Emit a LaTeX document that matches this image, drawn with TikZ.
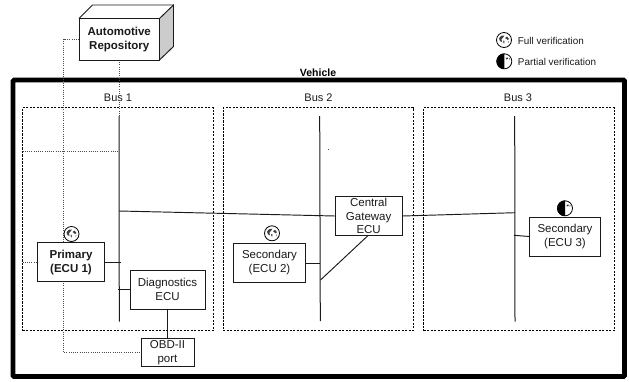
\documentclass[tikz,border=0pt]{standalone}
\usepackage{fontspec}
\setmainfont{Liberation Sans}
\definecolor{inkc}{HTML}{1A1A1A}
\tikzset{
  boxn/.style={draw=inkc,line width=0.95pt,fill=white,inner sep=0pt,align=center,text=inkc,
    font=\fontsize{11.5}{14.2}\selectfont},
  boldn/.style={boxn,font=\fontsize{11.5}{14.2}\selectfont\bfseries},
  busarea/.style={draw=black,line width=0.8pt,dash pattern=on 2.2pt off 1.3pt},
  busline/.style={draw=inkc,line width=1pt},
  conn/.style={draw=inkc,line width=0.95pt},
  dots/.style={draw=black!70,line width=0.6pt,dash pattern=on 0.9pt off 1.3pt},
  lbl/.style={inner sep=0pt,text=inkc,font=\fontsize{11}{13}\selectfont},
  legend/.style={inner sep=0pt,anchor=west,text=inkc,font=\fontsize{9.9}{12}\selectfont},
  globe/.pic={
    \draw[line width=0.8pt,fill=white] (0,0) circle (7.5);
    \fill[black!75] (-5,-1.5) .. controls (-3,-5) and (-1,-5) .. (0.5,-4.5) -- (-1,-2.5) -- (-2.5,-1) -- (-2,2) -- (-4,1) -- cycle;
    \fill[black!75] (1,-2) -- (3,-3.5) -- (5,-1) -- (3.5,0) -- (2.5,-1) -- cycle;
    \fill[black!60] (-0.8,0.5) -- (0.6,1) -- (0.2,3.6) -- (-0.8,2.6) -- cycle;
    \fill[black!60] (4,1.2) -- (5,1.5) -- (4,3.2) -- cycle;
  },
  halfglobe/.pic={
    \draw[line width=0.8pt,fill=white] (0,0) circle (7.5);
    \fill[black] (0,-7.9) arc[start angle=270,end angle=90,radius=7.9] -- cycle;
    \fill[black!80] (1.5,-3.4) -- (3.4,-3.9) -- (3.6,-2.2) -- (1.8,-2) -- cycle;
    \fill[black!80] (4.6,-3.2) -- (5.6,-2.6) -- (4.8,-1.4) -- cycle;
  }
}
\begin{document}
\begin{tikzpicture}[x=1pt,y=-1pt]
\useasboundingbox (0,0) rectangle (629,381);
% vehicle frame
\draw[line width=4.6pt,rounded corners=1pt] (13,80) rectangle (624.5,376.5);
\node[inner sep=0pt,font=\fontsize{10.5}{13}\selectfont\bfseries] (vehicle) at (318,73) {Vehicle};
% bus areas
\node[busarea,minimum width=190.5pt,minimum height=223.2pt,inner sep=0pt] (area1) at (117.75,219.1) {};
\node[busarea,minimum width=190pt,minimum height=223.2pt,inner sep=0pt] (area2) at (318,219.1) {};
\node[busarea,minimum width=190.5pt,minimum height=223.2pt,inner sep=0pt] (area3) at (518.75,219.1) {};
\node[lbl] (bus1) at (118,98) {Bus 1};
\node[lbl] (bus2) at (318.5,98) {Bus 2};
\node[lbl] (bus3) at (518,98) {Bus 3};
% named points on the bus lines
\coordinate (b1t) at (119,116);
\coordinate (b1b) at (119.3,321.7);
\coordinate (b2t) at (319.7,116);
\coordinate (b2b) at (320.3,321);
\coordinate (b3t) at (514.7,116);
\coordinate (b3b) at (515,321.7);
\coordinate (b1gw) at (119,211);
\coordinate (b1p) at (120.7,262);
\coordinate (b1d) at (118,289);
\coordinate (b1dot) at (119,151.5);
\coordinate (a1dot) at (22.5,151.5);
\coordinate (a1pr) at (22.5,262.3);
\coordinate (b2s) at (320.2,263);
\coordinate (b2g) at (320.5,280);
\coordinate (b3g) at (515,212.7);
\coordinate (b3s) at (514,235.3);
\coordinate (s3in) at (529.3,236.5);
\coordinate (gwl) at (335,216);
\coordinate (gwr) at (402.3,216);
\coordinate (gwb) at (368.3,235.3);
\coordinate (repl) at (79,39);
\coordinate (repb) at (119,60);
\coordinate (c1) at (63.5,39);
\coordinate (c2) at (63.5,352.7);
\coordinate (obdl) at (141,352.7);
% dotted links
\draw[dots] (repl) -- (c1) -- (c2) -- (obdl);
\draw[dots] (repb) -- (b1t);
\draw[dots] (a1dot) -- (b1dot);
\draw[dots] (a1pr) -- (37.5,262.3);
% buses
\draw[busline] (b1t) -- (b1b);
\draw[busline] (b2t) -- (b2b);
\draw[busline] (b3t) -- (b3b);
% links
\draw[conn] (b1gw) -- (gwl);
\draw[conn] (gwr) -- (b3g);
\draw[conn] (gwb) -- (b2g);
\draw[conn] (b1p) -- (104.5,262);
\draw[conn] (b1d) -- (130,289);
\draw[conn] (b2s) -- (305.3,263);
\draw[conn] (b3s) -- (s3in);
\draw[conn] (167.5,309) -- (167.5,338.7);
% repository cube
\fill[white] (79,18.5) -- (92.5,5) -- (173.5,5) -- (173.5,46.5) -- (159.5,60) -- (79,60) -- cycle;
\draw[line width=0.95pt,draw=inkc,fill=black!20] (159.5,18.5) -- (173.5,5) -- (173.5,46.5) -- (159.5,60) -- cycle;
\draw[line width=0.95pt,draw=inkc] (79,18.5) -- (92.5,5) -- (173.5,5);
\node[boldn,minimum width=80.5pt,minimum height=41.5pt] (repo) at (119.25,39.25) {Automotive\\Repository};
% ECUs
\node[boldn,minimum width=67pt,minimum height=39pt] (primary) at (71,262.2) {Primary\\(ECU 1)};
\node[boxn,minimum width=75pt,minimum height=39pt] (diag) at (167.5,289.5) {Diagnostics\\ECU};
\node[boxn,minimum width=53pt,minimum height=27.6pt] (obd) at (167.5,352.5) {OBD-II\\port};
\node[boxn,minimum width=67.3pt,minimum height=38.6pt,font=\fontsize{11.5}{13.3}\selectfont] (gateway) at (368.65,216) {Central\\Gateway\\ECU};
\node[boxn,minimum width=71.6pt,minimum height=39pt] (sec2) at (269.5,262.8) {Secondary\\(ECU 2)};
\node[boxn,minimum width=71.4pt,minimum height=39pt] (sec3) at (565,236.5) {Secondary\\(ECU 3)};
% verification marks
\pic at (71.5,234) {globe};
\pic at (272,233.3) {globe};
\pic at (504,40) {globe};
\pic at (565,208.3) {halfglobe};
\pic at (504.3,61.3) {halfglobe};
\node[legend] (lfull) at (517.7,40.5) {Full verification};
\node[legend] (lpart) at (517.7,61.5) {Partial verification};
% speck
\fill[black!70] (328.2,149.2) rectangle (329.2,149.9);
\end{tikzpicture}
\end{document}
